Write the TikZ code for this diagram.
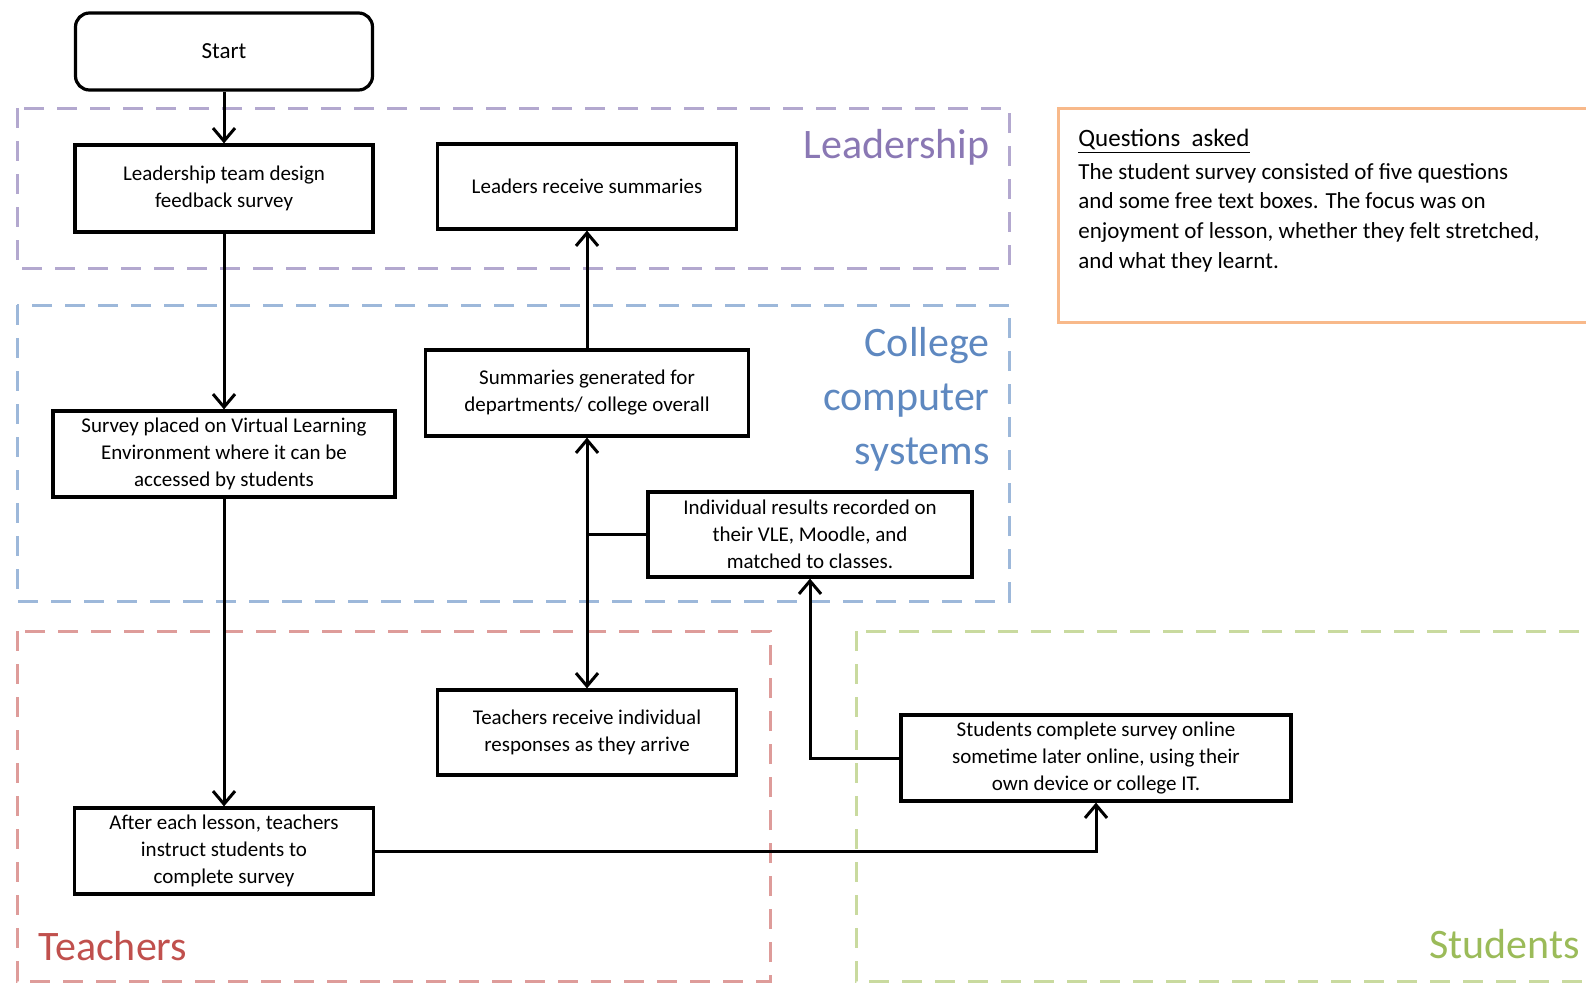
\documentclass[tikz,border=0pt]{standalone}
\usepackage{fontspec}
\setmainfont{Carlito}
\usetikzlibrary{arrows.meta}
\definecolor{leadlane}{HTML}{B3A8CF}
\definecolor{leadtext}{HTML}{8A78B4}
\definecolor{collegelane}{HTML}{9DB8DA}
\definecolor{collegetext}{HTML}{5E88C0}
\definecolor{teachlane}{HTML}{DE9C9A}
\definecolor{teachtext}{HTML}{C0504D}
\definecolor{studlane}{HTML}{C9DA9F}
\definecolor{studtext}{HTML}{9BBB59}
\definecolor{qorange}{HTML}{F8B98A}

\begin{document}
\begin{tikzpicture}[x=0.5pt, y=-0.5pt, >={Straight Barb[length=6.5pt,width=11pt]}]
            \tikzstyle{process} = [rectangle, draw=black, fill=white, line width=1.6pt, align=center, inner sep=2pt, font=\fontsize{10.5}{13.5}\selectfont]
            \tikzstyle{flow} = [->, line width=1.5pt]
            \tikzstyle{lane} = [line width=1.5pt, dash pattern=on 10pt off 6.5pt]
            \tikzstyle{lanelabel} = [inner sep=0pt, font=\fontsize{21}{27}\selectfont]
            \useasboundingbox (0,0) rectangle (1586,985);
            % swim lanes
            \draw[lane, draw=leadlane] (17,108) rectangle (1009,268);
            \draw[lane, draw=collegelane] (17,305) rectangle (1009,601);
            \draw[lane, draw=teachlane] (17,631) rectangle (770,981);
            \draw[lane, draw=studlane] (856,631) rectangle (1610,981);
            \node[lanelabel, text=leadtext, anchor=east] (leadlabel) at (990,147) {Leadership};
            \node[lanelabel, text=collegetext, anchor=east, align=right] (collegelabel) at (990,399) {College\\computer\\systems};
            \node[lanelabel, text=teachtext, anchor=west] (teachlabel) at (38,946) {Teachers};
            \node[lanelabel, text=studtext, anchor=east] (studlabel) at (1580,944) {Students};
            % note box
            \draw[line width=1.5pt, draw=qorange] (1058,108) rectangle (1610,322);
            \node[anchor=north west, align=left, inner sep=0pt, font=\fontsize{11.5}{14.8}\selectfont] (questions) at (1078,129)
                {{\fontsize{12.5}{15}\selectfont\underline{Questions\ \ asked}}\\[1.5pt]
                 The student survey consisted of five questions\\
                 and some free text boxes. The focus was on\\
                 enjoyment of lesson, whether they felt stretched,\\
                 and what they learnt.};
            % steps
            \node[process, rounded corners=7pt, minimum width=148.5pt, minimum height=38.5pt, font=\fontsize{11.5}{14}\selectfont] (start) at (224,51.5) {Start};
            \node[process, minimum width=149pt, minimum height=43.5pt] (design) at (224,188.5) {Leadership team design\\feedback survey};
            \node[process, minimum width=149.5pt, minimum height=42.5pt] (leaders) at (587,186.5) {Leaders receive summaries};
            \node[process, minimum width=171pt, minimum height=43pt] (vle) at (224,454) {Survey placed on Virtual Learning\\Environment where it can be\\accessed by students};
            \node[process, minimum width=161.5pt, minimum height=43pt] (summaries) at (587,393) {Summaries generated for\\departments/ college overall};
            \node[process, minimum width=162pt, minimum height=42.5pt] (individual) at (810,534.5) {Individual results recorded on\\their VLE, Moodle, and\\matched to classes.};
            \node[process, minimum width=149.5pt, minimum height=42.5pt] (teachrec) at (587,732.5) {Teachers receive individual\\responses as they arrive};
            \node[process, minimum width=149.5pt, minimum height=43pt] (lesson) at (224,851) {After each lesson, teachers\\instruct students to\\complete survey};
            \node[process, minimum width=195pt, minimum height=43pt] (students) at (1096,758) {Students complete survey online\\sometime later online, using their\\own device or college IT.};
            % connectors
            \draw[flow] (start) -- (design);
            \draw[flow] (design) -- (vle);
            \draw[flow] (vle) -- (lesson);
            \draw[flow] (lesson.east) -| (students.south);
            \draw[flow] (students.west) -| (individual.south);
            \draw[line width=1.5pt] (individual.west) -- (individual.west -| summaries.south);
            \draw[flow, <->] (teachrec.north) -- (summaries.south);
            \draw[flow] (summaries) -- (leaders);
\end{tikzpicture}
\end{document}
